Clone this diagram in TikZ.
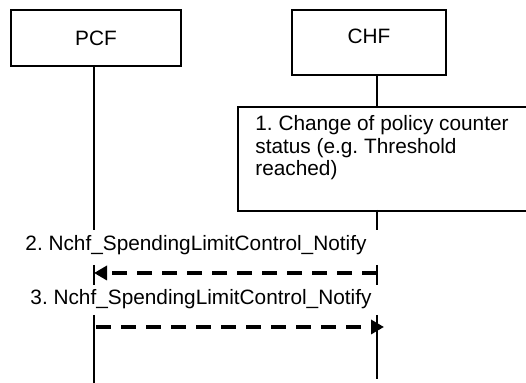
\documentclass[tikz,border=0pt]{standalone}
\usepackage{fontspec}
\setmainfont{Liberation Sans}
\frenchspacing
\usetikzlibrary{arrows.meta,positioning}
\tikzset{
  entity/.style={draw, line width=1pt, font=\fontsize{10.4}{11.3}\selectfont, inner sep=0pt},
  action/.style={draw, line width=1pt, inner sep=0pt},
  lifeline/.style={line width=1pt},
  msg/.style={line width=2pt, dash pattern=on 7.5pt off 5pt, -{Triangle[length=6.5pt,width=7pt]}},
  msglabel/.style={font=\fontsize{10.4}{11.3}\selectfont, inner sep=0pt, align=left}
}

\begin{document}
\begin{tikzpicture}[x=0.5pt,y=-0.5pt]
  \useasboundingbox (0,0) rectangle (526,383);
  \clip (0,0) rectangle (526,383);
  \node[entity, minimum width=85pt, minimum height=28pt] (pcf) at (96,38) {PCF};
  \node[entity, minimum width=77pt, minimum height=32.5pt, text depth=6pt] (chf) at (369,42.5) {CHF};
  \node[action, anchor=north west, minimum width=160pt, minimum height=52pt] (step1) at (237,106) {};
  \node[msglabel, anchor=north west] (step1txt) at (255,115) {1. Change of policy counter\\status (e.g. Threshold\\reached)};
  \node[msglabel] (lbl2) at (196,245) {2. Nchf\_SpendingLimitControl\_Notify};
  \node[msglabel] (lbl3) at (201,299) {3. Nchf\_SpendingLimitControl\_Notify};
  \coordinate (pcf1) at (94,230); \coordinate (pcf2) at (94,265); \coordinate (pcf3) at (94,285);
  \coordinate (pcf4) at (94,315); \coordinate (pcf5) at (94,383);
  \coordinate (chf0) at (377,75); \coordinate (chf1) at (377,106); \coordinate (chf2) at (377,210);
  \coordinate (chf3) at (377,230); \coordinate (chf4) at (377,265); \coordinate (chf5) at (377,285);
  \coordinate (chf6) at (377,315); \coordinate (chf7) at (377,379);
  \coordinate (m2a) at (377,273); \coordinate (m2b) at (94,273);
  \coordinate (m3a) at (96,327); \coordinate (m3b) at (384,327);
  \draw[lifeline] (pcf.south -| pcf1) -- (pcf1);
  \draw[lifeline] (pcf2) -- (pcf3);
  \draw[lifeline] (pcf4) -- (pcf5);
  \draw[lifeline] (chf0) -- (chf1);
  \draw[lifeline] (chf2) -- (chf3);
  \draw[lifeline] (chf4) -- (chf5);
  \draw[lifeline] (chf6) -- (chf7);
  \draw[msg] (m2a) -- (m2b);
  \draw[msg] (m3a) -- (m3b);
\end{tikzpicture}
\end{document}
